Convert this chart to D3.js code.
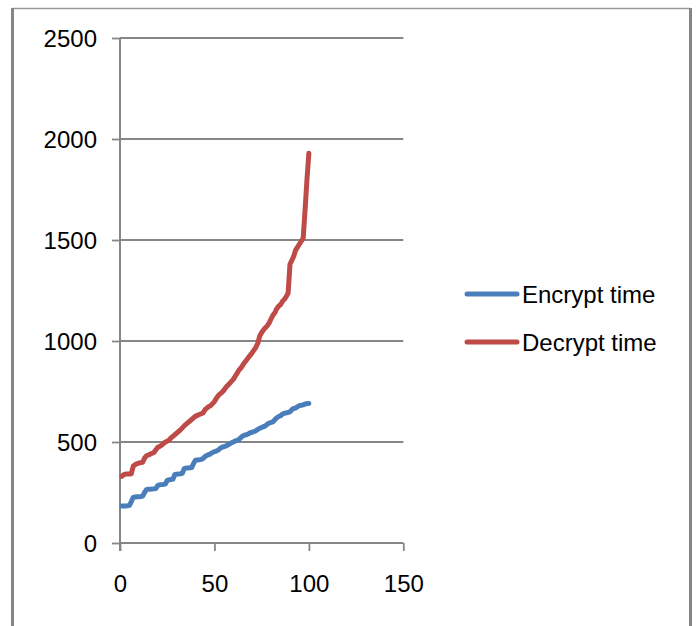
<!DOCTYPE html>
<html><head><meta charset="utf-8">
<script src="https://cdn.jsdelivr.net/npm/d3@7"></script>
<style>html,body{margin:0;padding:0;background:#fff;}svg{display:block;}</style>
</head><body>
<script>
const seriesNames = ["Encrypt time", "Decrypt time"];
const seriesColors = ["#4A7EBB", "#BE4B48"];
const xValues = d3.range(1, 101);
const encryptTime = [183,183,183,184,186,205,226,228,229,229,
230,232,250,264,266,266,267,268,270,285,
288,289,290,292,310,313,314,316,338,341,
342,343,345,368,371,371,372,374,395,410,
411,412,414,418,428,434,437,442,448,452,
455,460,468,474,477,480,485,490,496,500,
505,508,512,522,530,534,537,540,546,548,
552,556,562,568,572,576,580,588,594,597,
600,610,620,626,630,638,642,644,646,650,
660,666,668,675,680,682,684,688,690,691];
const decryptTime = [330,338,341,341,341,343,380,388,392,396,
398,400,420,432,436,440,444,448,462,474,
478,484,492,500,504,510,520,528,536,544,
552,560,570,580,588,596,604,612,620,628,
632,636,640,644,660,668,676,680,690,700,
716,730,738,746,756,770,780,790,800,810,
826,840,856,866,880,894,906,918,930,942,
956,970,990,1025,1042,1055,1066,1076,1090,1110,
1128,1140,1160,1172,1180,1196,1206,1220,1236,1380,
1400,1420,1450,1465,1480,1494,1510,1650,1800,1930];
const xTicks = [0, 50, 100, 150];
const yTicks = [0, 500, 1000, 1500, 2000, 2500];

const W = 697, H = 626;
const svg = d3.select("body").append("svg").attr("width", W).attr("height", H);
const font = "'Liberation Sans', Arial, sans-serif";
const grey = "#868686";

// outer frame
svg.append("line").attr("x1", 12.5).attr("x2", 690.5).attr("y1", 8.5).attr("y2", 8.5).attr("stroke", "#9a9a9a").attr("stroke-width", 1.5);
svg.append("line").attr("x1", 12.5).attr("x2", 12.5).attr("y1", 8).attr("y2", H).attr("stroke", grey).attr("stroke-width", 3);
svg.append("line").attr("x1", 690.5).attr("x2", 690.5).attr("y1", 8).attr("y2", H).attr("stroke", grey).attr("stroke-width", 3);

const x = d3.scaleLinear().domain([0, 150]).range([120, 403.3]);
const y = d3.scaleLinear().domain([0, 2500]).range([543, 38]);

// gridlines
const gy = svg.append("g");
gy.selectAll("line").data(yTicks.filter(d => d > 0)).join("line")
  .attr("x1", x(0)).attr("x2", x(150))
  .attr("y1", d => y(d)).attr("y2", d => y(d))
  .attr("stroke", grey).attr("stroke-width", 1.8);

// y axis
const yAxis = svg.append("g").attr("transform", `translate(${x(0)},0)`)
  .call(d3.axisLeft(y).tickValues(yTicks).tickSize(8).tickPadding(15).tickFormat(d3.format("d")));
yAxis.select(".domain").attr("stroke", grey).attr("stroke-width", 2).attr("d", `M0,${y(0)+8}V${y(2500)}`);
yAxis.selectAll(".tick line").attr("stroke", grey).attr("stroke-width", 1.8);
yAxis.selectAll("text").attr("font-family", font).attr("font-size", 24).attr("fill", "#000").attr("dy", "0.36em");

// x axis
const xAxis = svg.append("g").attr("transform", `translate(0,${y(0)})`)
  .call(d3.axisBottom(x).tickValues(xTicks).tickSize(8).tickPadding(24).tickFormat(d3.format("d")));
xAxis.select(".domain").attr("stroke", grey).attr("stroke-width", 2).attr("d", `M${x(0)},0H${x(150)}`);
xAxis.selectAll(".tick line").attr("stroke", grey).attr("stroke-width", 1.8);
xAxis.selectAll("text").attr("font-family", font).attr("font-size", 24).attr("fill", "#000");

// lines
const line = d3.line().x((d, i) => x(xValues[i])).y(d => y(d));
[encryptTime, decryptTime].forEach((s, k) => {
  svg.append("path").datum(s).attr("d", line).attr("fill", "none")
    .attr("stroke", seriesColors[k]).attr("stroke-width", 5)
    .attr("stroke-linecap", "round").attr("stroke-linejoin", "round");
});

// legend
const lg = svg.append("g");
seriesNames.forEach((n, k) => {
  const ly = 294 + k * 48;
  lg.append("line").attr("x1", 467).attr("x2", 517).attr("y1", ly).attr("y2", ly)
    .attr("stroke", seriesColors[k]).attr("stroke-width", 5).attr("stroke-linecap", "round");
  lg.append("text").attr("x", 522).attr("y", ly).attr("dy", "0.36em")
    .attr("font-family", font).attr("font-size", 24).attr("fill", "#000").text(n);
});
</script>
</body></html>
